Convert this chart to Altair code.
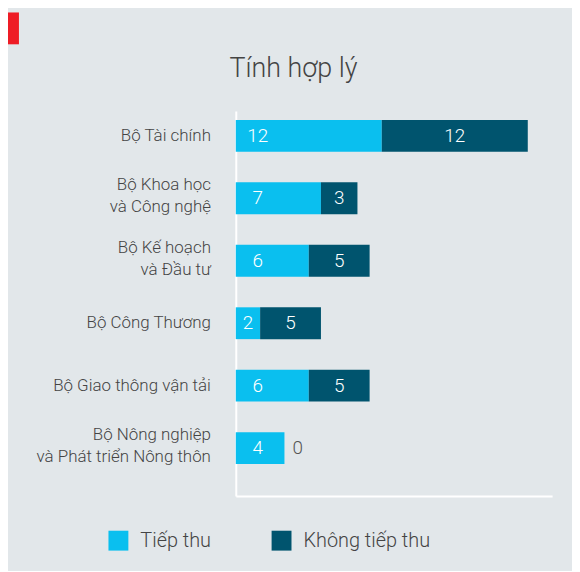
import altair as alt
import pandas as pd

ministries = [
    "Bộ Tài chính",
    "Bộ Khoa học\nvà Công nghệ",
    "Bộ Kế hoạch\nvà Đầu tư",
    "Bộ Công Thương",
    "Bộ Giao thông vận tải",
    "Bộ Nông nghiệp\nvà Phát triển Nông thôn",
]
accepted = [12, 7, 6, 2, 6, 4]
not_accepted = [12, 3, 5, 5, 5, 0]
series = ["Tiếp thu", "Không tiếp thu"]
colors = ["#0ABFEF", "#00546E"]
title_text = "Tính hợp lý"

FONT = "Roboto"
BG = "#E2E7EA"

rows = []
for i, name in enumerate(ministries):
    a, n = accepted[i], not_accepted[i]
    rows.append(dict(row=i, ministry=name, series=series[0], value=a, ord=0,
                     labelx=min(a / 2, 1.8), tcolor="#FFFFFF"))
    rows.append(dict(row=i, ministry=name, series=series[1], value=n, ord=1,
                     labelx=(a + n / 2) if n > 0 else a + 1.1,
                     tcolor="#FFFFFF" if n > 0 else "#555555"))
df = pd.DataFrame(rows)
names_df = pd.DataFrame({"row": list(range(len(ministries))), "ministry": ministries,
                         "nlines": [m.count("\n") + 1 for m in ministries]})

yenc = alt.Y("row:Q",
             scale=alt.Scale(domain=[-0.398, 5.764], reverse=True, nice=False, zero=False,
                             padding=0),
             axis=alt.Axis(title=None, labels=False, ticks=False, grid=False,
                           domainColor="white", domainWidth=2))
xscale = alt.Scale(domain=[0, 26.0], nice=False, padding=0)

bars = alt.Chart(df).mark_bar(size=32, orient="horizontal").encode(
    x=alt.X("value:Q", stack="zero", scale=xscale,
            axis=alt.Axis(title=None, labels=False, ticks=False, grid=False,
                          domainColor="white", domainWidth=2)),
    y=yenc,
    color=alt.Color("series:N", scale=alt.Scale(domain=series, range=colors),
                    legend=alt.Legend(title=None, orient="none", legendX=-128, legendY=422,
                                      direction="horizontal", symbolType="square",
                                      symbolSize=400, symbolStrokeWidth=0, labelFontSize=20,
                                      labelFont=FONT, labelFontWeight=300,
                                      labelColor="#444444", labelOffset=12,
                                      columnPadding=60, padding=0)),
    order=alt.Order("ord:Q"),
)

labels = alt.Chart(df).mark_text(font=FONT, fontSize=19, fontWeight=300, baseline="middle",
                                 align="center").encode(
    x=alt.X("labelx:Q", scale=xscale),
    y=yenc,
    text="value:Q",
    color=alt.Color("tcolor:N", scale=None),
)

def ylabel_layer(n, dy):
    return alt.Chart(names_df).transform_filter(f"datum.nlines == {n}").mark_text(
        font=FONT, fontSize=17, fontWeight=300, align="right", baseline="middle",
        lineBreak="\n", lineHeight=22, color="#444444", dy=dy
    ).encode(x=alt.value(-25), y=yenc, text="ministry:N")

ylabels1 = ylabel_layer(1, 0)
ylabels2 = ylabel_layer(2, -13)

title = alt.Chart(pd.DataFrame({"t": [title_text]})).mark_text(
    font=FONT, fontSize=27, fontWeight=300, align="center", baseline="middle", color="#444444"
).encode(x=alt.value(58), y=alt.value(-42), text="t:N")

redbox = alt.Chart(pd.DataFrame({"a": [0]})).mark_rect(color="#EE1C25").encode(
    x=alt.value(-229), x2=alt.value(-218), y=alt.value(-99), y2=alt.value(-67)
)

chart = alt.layer(redbox, title, bars, labels, ylabels1, ylabels2).properties(
    width=318, height=387,
    background=BG,
    padding={"left": 229, "top": 102, "right": 20, "bottom": 74},
    autosize=alt.AutoSizeParams(type="none"),
).configure_view(strokeWidth=0)

chart.save("out.html", embed_options={"renderer": "svg", "actions": False})
